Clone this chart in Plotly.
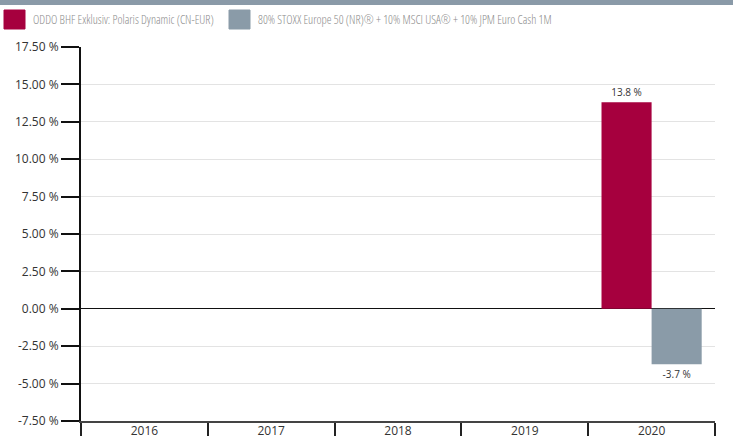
import plotly.graph_objects as go

years = ["2016", "2017", "2018", "2019", "2020"]
fund_name = "ODDO BHF Exklusiv: Polaris Dynamic (CN-EUR)"
bench_name = "80% STOXX Europe 50 (NR)® + 10% MSCI USA® + 10% JPM Euro Cash 1M"
fund_values = [None, None, None, None, 13.8]
bench_values = [None, None, None, None, -3.7]
y_ticks = [-7.5, -5.0, -2.5, 0.0, 2.5, 5.0, 7.5, 10.0, 12.5, 15.0, 17.5]
y_tick_labels = [f"{v:.2f} %" for v in y_ticks]

FUND_COLOR = "#a6003e"
BENCH_COLOR = "#8a9ba8"

W, H = 733, 436
L, R, T, B = 81, 18, 47, 15
PW, PH = W - L - R, H - T - B

def px_x(px):
    return (px - L) / PW

def px_y(py):
    return 1 + (T - py) / PH

fig = go.Figure()
for name, vals, col in [(fund_name, fund_values, FUND_COLOR), (bench_name, bench_values, BENCH_COLOR)]:
    fig.add_trace(go.Bar(
        x=years, y=vals, name=name, marker_color=col,
        marker_line_width=0,
        texttemplate="%{y:.1f} %", textposition="outside",
        textfont=dict(family="Open Sans", size=10, color="#333"),
        cliponaxis=False, showlegend=False,
    ))

shapes = [
    dict(type="rect", xref="paper", yref="paper",
         x0=px_x(0), x1=px_x(W), y0=px_y(5), y1=px_y(0),
         fillcolor="#8a9aa8", line_width=0, layer="above"),
]
annotations = []
legend_items = [(fund_name, FUND_COLOR, 4), (bench_name, BENCH_COLOR, 229)]
for name, col, sx in legend_items:
    shapes.append(dict(type="rect", xref="paper", yref="paper",
                       x0=px_x(sx), x1=px_x(sx + 21), y0=px_y(29), y1=px_y(10),
                       fillcolor=col, line=dict(color=col, width=1)))
    annotations.append(dict(text=f'<span style="font-stretch:86%">{name}</span>',
                            xref="paper", yref="paper",
                            x=px_x(sx + 27), y=px_y(19.5), xanchor="left", yanchor="middle",
                            showarrow=False,
                            font=dict(family="Open Sans", size=12, weight=300, color="#8c8c8c")))

fig.update_layout(
    width=W, height=H,
    margin=dict(l=L, r=R, t=T, b=B, autoexpand=False),
    paper_bgcolor="white", plot_bgcolor="white",
    barmode="group", bargap=0.21, bargroupgap=0,
    showlegend=False,
    shapes=shapes, annotations=annotations,
    font=dict(family="Open Sans", size=12, color="#333"),
)
fig.update_xaxes(
    type="category", categoryorder="array", categoryarray=years,
    showline=True, linecolor="#444", linewidth=2,
    ticks="outside", tickson="boundaries", ticklen=15, tickwidth=2, tickcolor="#222",
    ticklabelstandoff=-2, showgrid=False, automargin=False,
    tickfont=dict(family="Open Sans", size=12, color="#333"),
)
fig.update_yaxes(
    range=[-7.5, 17.5], tickvals=y_ticks, ticktext=y_tick_labels,
    showline=True, linecolor="#111", linewidth=2,
    ticks="outside", ticklen=18, tickwidth=2, tickcolor="#111",
    showgrid=True, gridcolor="#e3e3e3", gridwidth=1,
    zeroline=True, zerolinecolor="#111", zerolinewidth=1,
    automargin=False,
    tickfont=dict(family="Open Sans", size=12, color="#333"),
)
fig.write_html("out.html", config={"displayModeBar": False},
               post_script="document.body.style.margin='0';document.body.style.overflow='hidden';")
